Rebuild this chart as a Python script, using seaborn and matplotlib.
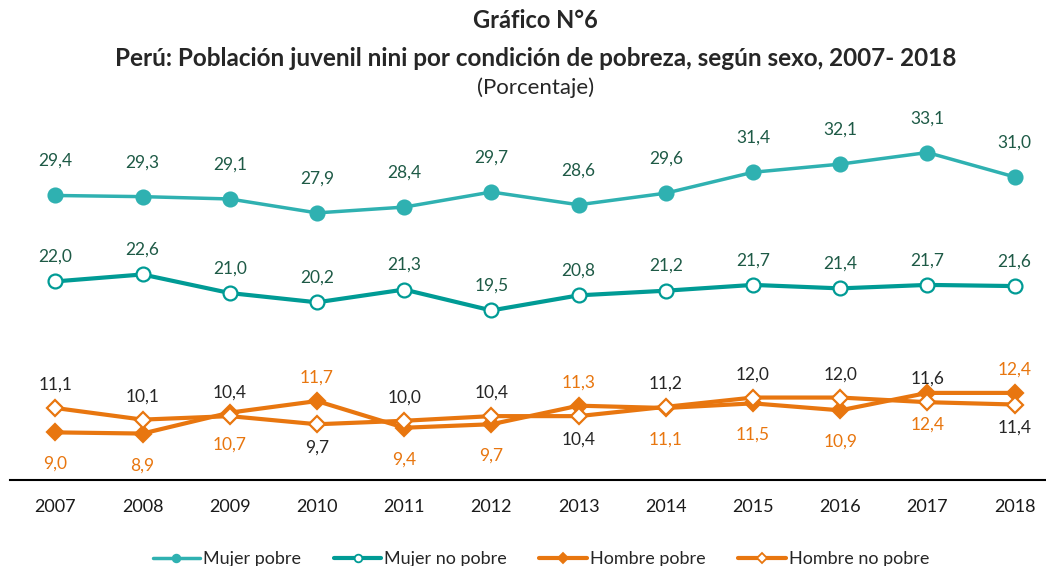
import matplotlib
matplotlib.use("Agg")
import matplotlib.pyplot as plt
import seaborn as sns
import numpy as np
import pandas as pd
from matplotlib.lines import Line2D

# datos del grafico
anios = [2007, 2008, 2009, 2010, 2011, 2012, 2013, 2014, 2015, 2016, 2017, 2018]
mujer_pobre = [29.4, 29.3, 29.1, 27.9, 28.4, 29.7, 28.6, 29.6, 31.4, 32.1, 33.1, 31.0]
mujer_no_pobre = [22.0, 22.6, 21.0, 20.2, 21.3, 19.5, 20.8, 21.2, 21.7, 21.4, 21.7, 21.6]
hombre_pobre = [9.0, 8.9, 10.7, 11.7, 9.4, 9.7, 11.3, 11.1, 11.5, 10.9, 12.4, 12.4]
hombre_no_pobre = [11.1, 10.1, 10.4, 9.7, 10.0, 10.4, 10.4, 11.2, 12.0, 12.0, 11.6, 11.4]

# etiqueta arriba (1) o abajo (-1)
pos_hombre_pobre = [-1, -1, -1, 1, -1, -1, 1, -1, -1, -1, -1, 1]
pos_hombre_no_pobre = [1, 1, 1, -1, 1, 1, -1, 1, 1, 1, 1, -1]

df = pd.DataFrame({
    'anio': anios * 4,
    'valor': mujer_pobre + mujer_no_pobre + hombre_pobre + hombre_no_pobre,
    'serie': ['Mujer pobre'] * 12 + ['Mujer no pobre'] * 12 + ['Hombre pobre'] * 12 + ['Hombre no pobre'] * 12,
})

sns.set_theme(style="white")
plt.rcParams['font.family'] = ['Lato', 'DejaVu Sans']

teal1 = '#2fb1b1'
teal2 = '#009b95'
naranja = '#e8760f'
verde_txt = '#1e5a46'
gris_txt = '#262626'

fig = plt.figure(figsize=(10.46, 5.66), dpi=100)
ax = fig.add_axes([10 / 1046, 1 - 480 / 566, 1036 / 1046, 360 / 566])

estilos = {
    'Mujer pobre': dict(color=teal1, marker='o', markerfacecolor=teal1, lw=2.5),
    'Mujer no pobre': dict(color=teal2, marker='o', markerfacecolor='white', lw=3),
    'Hombre pobre': dict(color=naranja, marker='D', markerfacecolor=naranja, lw=3),
    'Hombre no pobre': dict(color=naranja, marker='D', markerfacecolor='white', lw=3),
}
msizes = {'Mujer pobre': 10, 'Mujer no pobre': 10, 'Hombre pobre': 8.5, 'Hombre no pobre': 8.5}

for serie, st in estilos.items():
    sub = df[df['serie'] == serie]
    sns.lineplot(data=sub, x='anio', y='valor', ax=ax, color=st['color'], linewidth=st['lw'],
                 marker=st['marker'], markersize=msizes[serie], markerfacecolor=st['markerfacecolor'],
                 markeredgecolor=st['color'], markeredgewidth=1.6, legend=False)

def fmt(v):
    return f"{v:.1f}".replace('.', ',')

fs = 12.5
for x, v in zip(anios, mujer_pobre):
    ax.annotate(fmt(v), (x, v), xytext=(0, 19), textcoords='offset points', ha='center', va='bottom',
                fontsize=fs, color=verde_txt)
for x, v in zip(anios, mujer_no_pobre):
    ax.annotate(fmt(v), (x, v), xytext=(0, 12), textcoords='offset points', ha='center', va='bottom',
                fontsize=fs, color=verde_txt)
for x, v, p in zip(anios, hombre_pobre, pos_hombre_pobre):
    ax.annotate(fmt(v), (x, v), xytext=(0, 11 if p > 0 else -17), textcoords='offset points', ha='center',
                va='bottom' if p > 0 else 'top', fontsize=fs, color=naranja)
for x, v, p in zip(anios, hombre_no_pobre, pos_hombre_no_pobre):
    ax.annotate(fmt(v), (x, v), xytext=(0, 11 if p > 0 else -11), textcoords='offset points', ha='center',
                va='bottom' if p > 0 else 'top', fontsize=fs, color=gris_txt)

ax.set_xlim(2006.48, 2018.36)
ax.set_ylim(4.9, 35.9)
ax.set_xticks(anios)
ax.set_xticklabels([str(a) for a in anios], fontsize=13, color='#1a1a1a')
ax.tick_params(axis='x', length=0, pad=14)
ax.set_yticks([])
ax.set_xlabel('')
ax.set_ylabel('')
for s in ['top', 'right', 'left']:
    ax.spines[s].set_visible(False)
ax.spines['bottom'].set_color('black')
ax.spines['bottom'].set_linewidth(1.5)

fig.text(0.512, 1 - 20 / 566, 'Gráfico N°6', ha='center', va='center', fontsize=17, fontweight='bold')
fig.text(0.512, 1 - 58 / 566, 'Perú: Población juvenil nini por condición de pobreza, según sexo, 2007- 2018',
         ha='center', va='center', fontsize=17.5, fontweight='bold')
fig.text(0.512, 1 - 88 / 566, '(Porcentaje)', ha='center', va='center', fontsize=16)

handles = [Line2D([], [], color=st['color'], lw=st['lw'], marker=st['marker'],
                  markersize=5.5, markerfacecolor=st['markerfacecolor'],
                  markeredgecolor=st['color'], markeredgewidth=1.3)
           for s, st in estilos.items()]
fig.legend(handles, list(estilos.keys()), loc='center', bbox_to_anchor=(0.517, 1 - 559 / 566), ncol=4,
           frameon=False, fontsize=13, handlelength=2.65, columnspacing=1.8, handletextpad=0.15)

fig.savefig('out.png', dpi=100)
